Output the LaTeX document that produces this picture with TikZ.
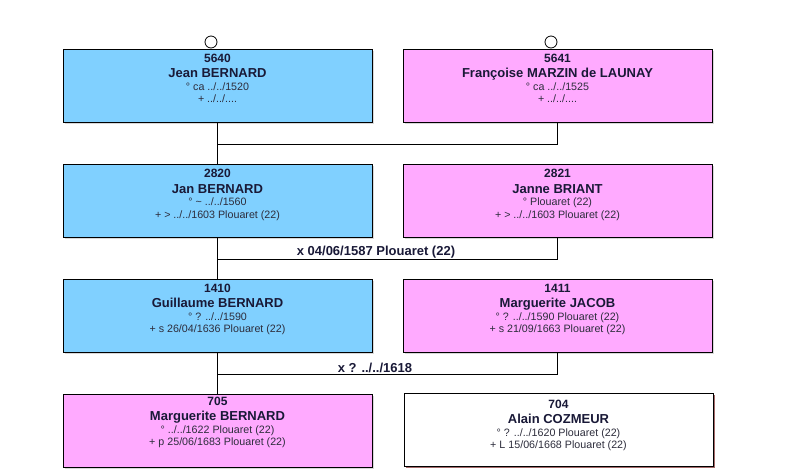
\documentclass[tikz,border=0pt]{standalone}
\usepackage{fontspec}
\setmainfont{Liberation Sans}
\usetikzlibrary{calc,shadows}
\definecolor{homme}{RGB}{128,208,255}
\definecolor{femme}{RGB}{255,170,255}
\definecolor{encre}{RGB}{25,25,55}
\definecolor{gris}{RGB}{45,45,60}
\newcommand{\fiche}[6]{%
	\node [numero] at ($(#1.north)+(0,13.5+#2)$) {#3};
	\node [nom] at ($(#1.north)+(0,29.3+#2)$) {#4};
	\node [dates] at ($(#1.north)+(0,41.7+#2)$) {#5};
	\node [dates] at ($(#1.north)+(0,54+#2)$) {#6};}
\begin{document}
\begin{tikzpicture}[x = 1pt, y = -1pt,
		fiche/.style = {draw, line width = .8pt, minimum width = 309pt, minimum height = 73pt, inner sep = 0pt,
			drop shadow = {shadow xshift = 1.5pt, shadow yshift = -1.5pt, fill = black!30}},
		homme box/.style = {fiche, fill = homme},
		femme box/.style = {fiche, fill = femme},
		autre box/.style = {fiche, fill = white, drop shadow = {shadow xshift = 1.5pt, shadow yshift = -1.5pt, fill = red!45!black}},
		numero/.style = {anchor = base, inner sep = 0pt, text = encre, font = \fontsize{12}{14}\selectfont\bfseries},
		nom/.style = {anchor = base, inner sep = 0pt, text = encre, font = \fontsize{13}{15}\selectfont\bfseries},
		dates/.style = {anchor = base, inner sep = 0pt, text = gris, font = \fontsize{10.7}{12}\selectfont},
		union/.style = {anchor = base, inner sep = 0pt, text = encre, font = \fontsize{13}{15}\selectfont\bfseries},
		rond/.style = {draw, circle, fill = white, minimum size = 12pt, inner sep = 0pt, line width = .8pt},
		trait/.style = {line width = .9pt}]
	\path [fill = white] (0,0) rectangle (785,475);
	\node [homme box] (p5640) at (217.5,85.5) {};
	\node [femme box] (p5641) at (557.5,85.5) {};
	\node [homme box] (p2820) at (217.5,200.5) {};
	\node [femme box] (p2821) at (557.5,200.5) {};
	\node [homme box] (p1410) at (217.5,315.5) {};
	\node [femme box] (p1411) at (557.5,315.5) {};
	\node [femme box] (p705) at (217.5,430.5) {};
	\node [autre box] (p704) at (558.5,429.5) {};
	\node [rond] (o5640) at (211,42) {};
	\node [rond] (o5641) at (551,42) {};
	\draw [trait] (p5640.south) -- ++(0,22) -| (p5641.south);
	\draw [trait] (p5640.south) -- (p2820.north);
	\draw [trait] (p2820.south) -- ++(0,22) -| (p2821.south);
	\draw [trait] (p2820.south) -- (p1410.north);
	\draw [trait] (p1410.south) -- ++(0,22) -| (p1411.south);
	\draw [trait] (p1410.south) -- (p705.north);
	\fiche{p5640}{0}{5640}{Jean BERNARD}{° ca ../../1520}{+ ../../....}
	\fiche{p5641}{0}{5641}{Françoise MARZIN de LAUNAY}{° ca ../../1525}{+ ../../....}
	\fiche{p2820}{0.5}{2820}{Jan BERNARD}{° \char`\~{} ../../1560}{+ > ../../1603 Plouaret (22)}
	\fiche{p2821}{0.5}{2821}{Janne BRIANT}{° Plouaret (22)}{+ > ../../1603 Plouaret (22)}
	\fiche{p1410}{0}{1410}{Guillaume BERNARD}{° ? ../../1590}{+ s 26/04/1636 Plouaret (22)}
	\fiche{p1411}{0}{1411}{Marguerite JACOB}{° ? ../../1590 Plouaret (22)}{+ s 21/09/1663 Plouaret (22)}
	\fiche{p705}{-2}{705}{Marguerite BERNARD}{° ../../1622 Plouaret (22)}{+ p 25/06/1683 Plouaret (22)}
	\fiche{p704}{2}{704}{Alain COZMEUR}{° ? ../../1620 Plouaret (22)}{+ L 15/06/1668 Plouaret (22)}
	\node [union] (x2820) at (376,255) {x 04/06/1587 Plouaret (22)};
	\node [union] (x1410) at (375,372) {x ? ../../1618};
\end{tikzpicture}
\end{document}
